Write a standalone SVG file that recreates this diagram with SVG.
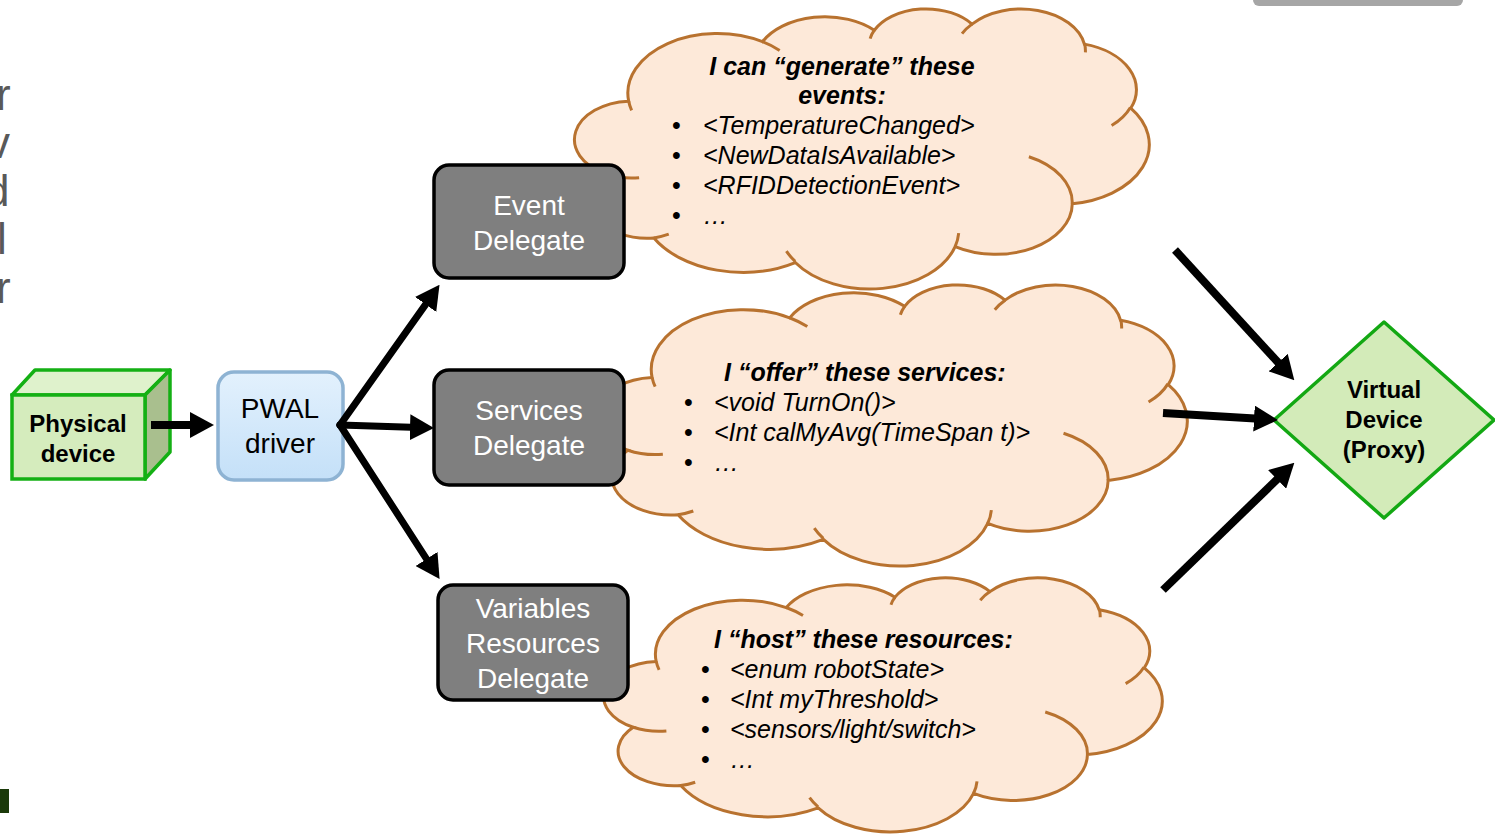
<svg xmlns="http://www.w3.org/2000/svg" xmlns:xlink="http://www.w3.org/1999/xlink" width="1495" height="835" viewBox="0 0 1495 835">
  <style>
    .cloud-body { fill: #fde9d9; stroke: #b8722f; stroke-width: 3; vector-effect: non-scaling-stroke; }
    .cloud-fold { fill: none; stroke: #b8722f; stroke-width: 3; vector-effect: non-scaling-stroke; }
    .delegate { fill: #7f7f7f; stroke: #000; stroke-width: 3.5; }
    .delegate-text { font-family: "Liberation Sans", Arial, sans-serif; font-size: 28px; fill: #fff; text-anchor: middle; }
    .node-text { font-family: "Liberation Sans", Arial, sans-serif; font-size: 28px; fill: #000; text-anchor: middle; }
    .bold-label { font-family: "Liberation Sans", Arial, sans-serif; font-size: 24px; font-weight: bold; fill: #000; text-anchor: middle; }
    .cloud-title { font-family: "Liberation Sans", Arial, sans-serif; font-size: 25px; font-weight: bold; font-style: italic; fill: #000; }
    .cloud-item { font-family: "Liberation Sans", Arial, sans-serif; font-size: 25px; font-style: italic; fill: #000; }
    .bullet { font-family: "Liberation Sans", Arial, sans-serif; font-size: 25px; fill: #000; }
    .edge { stroke: #000; stroke-width: 8; fill: none; marker-end: url(#head); }
    .edge-thin { stroke: #000; stroke-width: 7; fill: none; marker-end: url(#head); }
    .margin-text { font-family: "Liberation Sans", Arial, sans-serif; font-size: 44px; fill: #595959; }
  </style>
  <defs>
    <marker id="head" viewBox="0 0 24 26" refX="1" refY="13" markerWidth="24" markerHeight="26" markerUnits="userSpaceOnUse" orient="auto">
      <path d="M0,0 L24,13 L0,26 Z" fill="#000"/>
    </marker>
    <linearGradient id="pwalFill" x1="0" y1="0" x2="0" y2="1">
      <stop offset="0" stop-color="#e3f1fd"/>
      <stop offset="1" stop-color="#c4e0f8"/>
    </linearGradient>
    <!-- cloud outline in a 1000 x 1000 box, scaled per use -->
    <g id="cloudShape">
      <path class="cloud-body" d="M90.3,332.6 A156.3,212.7 0 0 1 324.2,120.4 A123.4,168.2 0 0 1 519.8,79.4 A101,137.6 0 0 1 690.6,57.5 A112.4,152.7 0 0 1 887,129.1 A123.4,168.4 0 0 1 968.1,357.9 A156.8,213.4 0 0 1 865.9,699.1 A133.9,182.1 0 0 1 661.1,852.2 A156.3,213.3 0 0 1 381.6,909 A178.7,244.1 0 0 1 134.4,821.2 A100.9,137 0 0 1 49,591.5 A100.6,137.6 0 0 1 90.3,332.6 Z"/>
      <path class="cloud-fold" d="M108.6,605.9 A100.6,137.6 0 0 1 49,591.5 M160.4,807.9 A100.9,137 0 0 1 134.4,821.2 M381.4,904.9 A156.3,213.3 0 0 1 366.1,868.6 M667.3,804.4 A156.3,213.3 0 0 1 661.1,852.2 M790,531.3 A133.9,182.1 0 0 1 865.9,699.1 M967.5,355.4 A123.4,168.4 0 0 1 934.6,419.8 M887.1,125.6 A112.4,152.7 0 0 1 888.8,158.4 M673.1,91.5 A112.4,152.7 0 0 1 690.6,57.5 M512.5,109.3 A101,137.6 0 0 1 519.8,79.4 M324.1,120.2 A156.3,212.7 0 0 1 354.3,151.6 M95.5,365.5 A156.3,212.7 0 0 1 90.3,332.6"/>
    </g>
  </defs>

  <rect width="1495" height="835" fill="#fff"/>

  <!-- slide margin remnants -->
  <g id="margin">
    <text class="margin-text" x="-4" y="110">r</text>
    <text class="margin-text" x="-12" y="158">v</text>
    <text class="margin-text" x="-15" y="206">d</text>
    <text class="margin-text" x="-3" y="254">l</text>
    <text class="margin-text" x="-4" y="303">r</text>
    <rect x="1253" y="-10" width="210" height="16" rx="6" fill="#a6a6a6"/>
    <rect x="0" y="789" width="9" height="24" fill="#1b3a0a"/>
  </g>

  <!-- clouds -->
  <g id="events-cloud">
    <use xlink:href="#cloudShape" transform="translate(577,8) scale(0.572,0.28)"/>
    <text class="cloud-title" x="842" y="75" text-anchor="middle">I can “generate” these</text>
    <text class="cloud-title" x="842" y="104" text-anchor="middle">events:</text>
    <text class="bullet" x="672" y="134">•</text>
    <text class="bullet" x="672" y="164">•</text>
    <text class="bullet" x="672" y="194">•</text>
    <text class="bullet" x="672" y="224">•</text>
    <text class="cloud-item" x="703" y="134">&lt;TemperatureChanged&gt;</text>
    <text class="cloud-item" x="703" y="164">&lt;NewDataIsAvailable&gt;</text>
    <text class="cloud-item" x="703" y="194">&lt;RFIDDetectionEvent&gt;</text>
    <text class="cloud-item" x="703" y="224">…</text>
  </g>

  <g id="services-cloud">
    <use xlink:href="#cloudShape" transform="translate(599,284) scale(0.588,0.281)"/>
    <text class="cloud-title" x="724" y="381">I “offer” these services:</text>
    <text class="bullet" x="684" y="411">•</text>
    <text class="bullet" x="684" y="441">•</text>
    <text class="bullet" x="684" y="471">•</text>
    <text class="cloud-item" x="714" y="411">&lt;void TurnOn()&gt;</text>
    <text class="cloud-item" x="714" y="441">&lt;Int calMyAvg(TimeSpan t)&gt;</text>
    <text class="cloud-item" x="714" y="471">…</text>
  </g>

  <g id="resources-cloud">
    <use xlink:href="#cloudShape" transform="translate(606,577) scale(0.556,0.254)"/>
    <text class="cloud-title" x="714" y="648">I “host” these resources:</text>
    <text class="bullet" x="701" y="678">•</text>
    <text class="bullet" x="701" y="708">•</text>
    <text class="bullet" x="701" y="738">•</text>
    <text class="bullet" x="701" y="768">•</text>
    <text class="cloud-item" x="730" y="678">&lt;enum robotState&gt;</text>
    <text class="cloud-item" x="730" y="708">&lt;Int myThreshold&gt;</text>
    <text class="cloud-item" x="730" y="738">&lt;sensors/light/switch&gt;</text>
    <text class="cloud-item" x="730" y="768">…</text>
  </g>

  <!-- physical device cube -->
  <g id="physical-device">
    <path d="M12,395 L35,370 L170,370 L145,395 Z" fill="#dff2cc" stroke="#14b014" stroke-width="3.5" stroke-linejoin="round"/>
    <path d="M145,395 L170,370 L170,452 L145,479 Z" fill="#a9bf8e" stroke="#14b014" stroke-width="3.5" stroke-linejoin="round"/>
    <rect x="12" y="395" width="133" height="84" fill="#d5ecbd" stroke="#14b014" stroke-width="3.5"/>
    <text class="bold-label" x="78" y="432">Physical</text>
    <text class="bold-label" x="78" y="462">device</text>
  </g>

  <!-- PWAL driver -->
  <g id="pwal-driver">
    <rect x="218" y="372" width="125" height="108" rx="16" fill="url(#pwalFill)" stroke="#8eb3d3" stroke-width="3.5"/>
    <text class="node-text" x="280" y="418">PWAL</text>
    <text class="node-text" x="280" y="453">driver</text>
  </g>

  <!-- delegates -->
  <g id="event-delegate">
    <rect class="delegate" x="434" y="165" width="190" height="113" rx="15"/>
    <text class="delegate-text" x="529" y="215">Event</text>
    <text class="delegate-text" x="529" y="250">Delegate</text>
  </g>
  <g id="services-delegate">
    <rect class="delegate" x="434" y="370" width="190" height="115" rx="15"/>
    <text class="delegate-text" x="529" y="420">Services</text>
    <text class="delegate-text" x="529" y="455">Delegate</text>
  </g>
  <g id="variables-delegate">
    <rect class="delegate" x="438" y="585" width="190" height="115" rx="15"/>
    <text class="delegate-text" x="533" y="618">Variables</text>
    <text class="delegate-text" x="533" y="653">Resources</text>
    <text class="delegate-text" x="533" y="688">Delegate</text>
  </g>

  <!-- virtual device -->
  <g id="virtual-device">
    <path d="M1384,322 L1494,420 L1384,518 L1274,420 Z" fill="#d3ebb9" stroke="#13a813" stroke-width="3.5" stroke-linejoin="round"/>
    <text class="bold-label" x="1384" y="398">Virtual</text>
    <text class="bold-label" x="1384" y="428">Device</text>
    <text class="bold-label" x="1384" y="458">(Proxy)</text>
  </g>

  <!-- connectors -->
  <g id="connectors">
    <line class="edge" x1="151" y1="425" x2="191" y2="425"/>
    <line class="edge-thin" x1="340" y1="425" x2="426.2" y2="303.6" stroke-linecap="round"/>
    <line class="edge-thin" x1="340" y1="425" x2="411" y2="427.2" stroke-linecap="round"/>
    <line class="edge-thin" x1="340" y1="425" x2="427.1" y2="559.8" stroke-linecap="round"/>
    <line class="edge" x1="1175" y1="250" x2="1278.8" y2="363.3"/>
    <line class="edge" x1="1163" y1="413" x2="1255" y2="418.6"/>
    <line class="edge" x1="1163" y1="590" x2="1277.8" y2="478.7"/>
  </g>
</svg>
